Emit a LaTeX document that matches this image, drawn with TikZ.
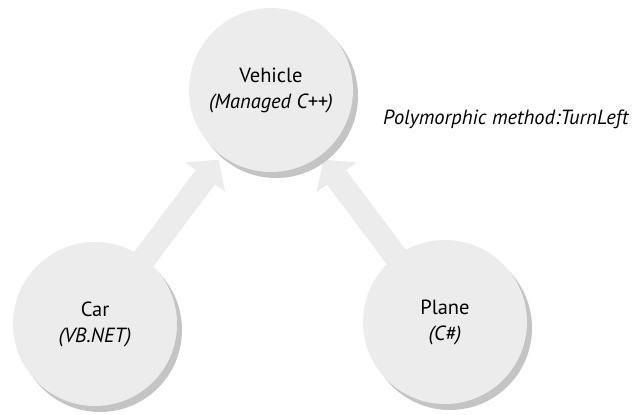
\documentclass[tikz,border=0pt]{standalone}
\usepackage{fontspec}
\setmainfont{PT Sans}
\usepackage{xcolor}
\usetikzlibrary{arrows.meta,shadows,backgrounds}

\definecolor{ballgray}{RGB}{236,236,236}
\definecolor{shadegray}{RGB}{196,196,196}

\begin{document}
\begin{tikzpicture}[x=1pt, y=-1pt,
  ball/.style    = {circle, fill=ballgray, minimum size=164pt, inner sep=0pt,
                    align=center, font=\fontsize{20.5}{26}\selectfont,
                    drop shadow={shadow xshift=5pt, shadow yshift=-6pt,
                                 fill=shadegray, opacity=1}},
  inherit/.style = {line width=24pt, draw=ballgray,
                    -{Triangle[width=50pt, length=22pt, line width=0pt]},
                    shorten >=5pt, shorten <=-12pt},
  note/.style    = {anchor=base west, inner sep=0pt,
                    font=\fontsize{20.5}{22}\selectfont\itshape},
]
\useasboundingbox (0,0) rectangle (635,415);

\node[ball] (vehicle) at (271,90) {Vehicle\\\textit{(Managed C++)}};
\node[ball] (car) at (95,324) {Car\\\textit{(VB.NET)}};
\node[ball] (plane) at (445,322) {Plane\\\textit{(C\#)}};

\node[note] (poly) at (383,124) {Polymorphic method:TurnLeft};

\begin{scope}[on background layer]
\draw[inherit] (car) -- (vehicle);
\draw[inherit] (plane) -- (vehicle);
\end{scope}

\end{tikzpicture}
\end{document}
